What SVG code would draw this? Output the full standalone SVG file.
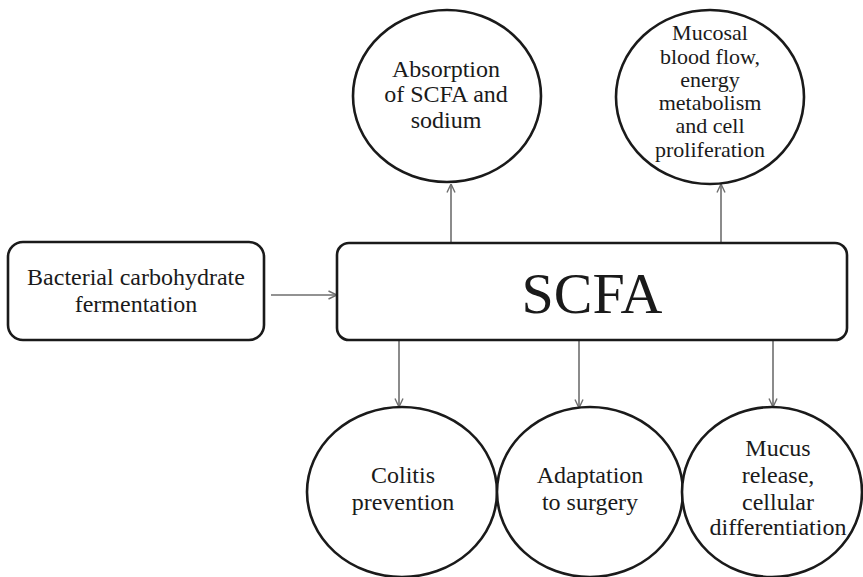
<svg xmlns="http://www.w3.org/2000/svg" width="863" height="577" viewBox="0 0 863 577">
  <style>
    .shape { fill: #ffffff; stroke: #1a1a1a; stroke-width: 2.6; }
    text { font-family: 'Liberation Serif', 'Times New Roman', serif; font-size: 24px; fill: #1a1a1a; text-anchor: middle; }
    .small { font-size: 22px; }
    .big { font-size: 58px; }
    .link { stroke: #6e6e6e; stroke-width: 1.6; fill: none; marker-end: url(#open); }
  </style>
  <defs>
    <marker id="open" viewBox="0 0 10 10" refX="9.5" refY="5" markerWidth="10" markerHeight="10" markerUnits="userSpaceOnUse" orient="auto">
      <path d="M1,1 L9.5,5 L1,9" fill="none" stroke="#6e6e6e" stroke-width="1.4"/>
    </marker>
  </defs>
  <rect width="863" height="577" fill="#ffffff"/>

  <g id="connectors">
    <line class="link" x1="271" y1="295" x2="337" y2="295"/>
    <line class="link" x1="451" y1="242" x2="451" y2="184"/>
    <line class="link" x1="721" y1="242" x2="721" y2="184"/>
    <line class="link" x1="399" y1="341" x2="399" y2="407"/>
    <line class="link" x1="579" y1="341" x2="579" y2="408"/>
    <line class="link" x1="773" y1="341" x2="773" y2="407"/>
  </g>

  <g id="fermentation">
    <rect class="shape" x="8" y="242" width="256" height="98" rx="15"/>
    <text x="136" y="285">Bacterial carbohydrate</text>
    <text x="136" y="312">fermentation</text>
  </g>

  <g id="scfa">
    <rect class="shape" x="337" y="243" width="510" height="97" rx="12"/>
    <text class="big" x="592" y="313">SCFA</text>
  </g>

  <g id="absorption">
    <ellipse class="shape" cx="447" cy="96" rx="94" ry="86"/>
    <text x="446" y="77">Absorption</text>
    <text x="446" y="102">of SCFA and</text>
    <text x="446" y="128">sodium</text>
  </g>

  <g id="mucosal">
    <ellipse class="shape" cx="710" cy="97" rx="94" ry="87"/>
    <text class="small" x="710" y="40">Mucosal</text>
    <text class="small" x="710" y="64">blood flow,</text>
    <text class="small" x="710" y="87">energy</text>
    <text class="small" x="710" y="110">metabolism</text>
    <text class="small" x="710" y="133">and cell</text>
    <text class="small" x="710" y="157">proliferation</text>
  </g>

  <g id="colitis">
    <ellipse class="shape" cx="402" cy="492" rx="95" ry="85"/>
    <text x="403" y="483">Colitis</text>
    <text x="403" y="510">prevention</text>
  </g>

  <g id="surgery">
    <ellipse class="shape" cx="590" cy="492" rx="93" ry="85"/>
    <text x="590" y="483">Adaptation</text>
    <text x="590" y="510">to surgery</text>
  </g>

  <g id="mucus">
    <ellipse class="shape" cx="772" cy="492" rx="90" ry="85"/>
    <text x="778" y="456">Mucus</text>
    <text x="778" y="483">release,</text>
    <text x="778" y="510">cellular</text>
    <text x="778" y="535">differentiation</text>
  </g>
</svg>
